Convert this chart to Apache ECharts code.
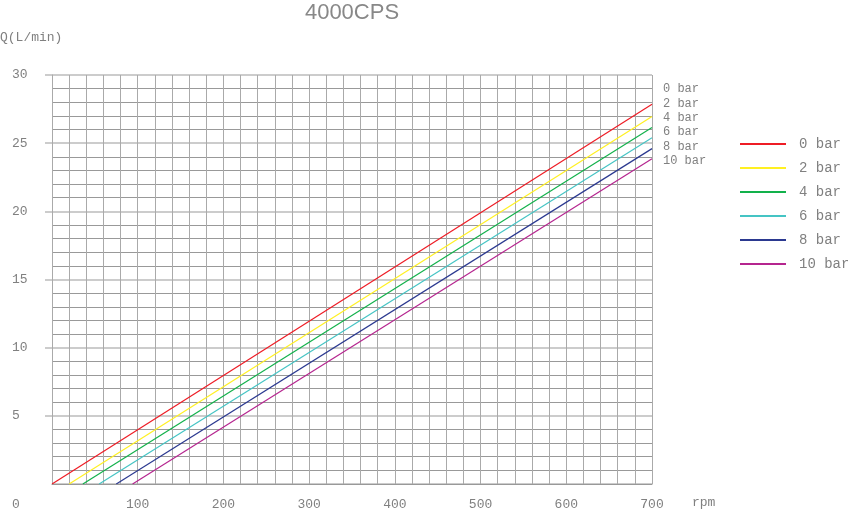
<!DOCTYPE html>
<html>
<head>
<meta charset="utf-8">
<script src="https://cdn.jsdelivr.net/npm/echarts@6/dist/echarts.min.js"></script>
<style>
  html, body { margin: 0; padding: 0; background: #fff; }
  #chart { width: 848px; height: 511px; }
</style>
</head>
<body>
<div id="chart"></div>
<script>
// pressure curves: flow starts at startRpm (Q = 0) and rises to endQ at 700 rpm
var seriesNames = ['0 bar', '2 bar', '4 bar', '6 bar', '8 bar', '10 bar']
var startRpm = [0, 20, 36, 55, 75, 94]
var endQ = [27.85, 26.95, 26.15, 25.4, 24.6, 23.85]
var maxRpm = 700
var colors = ['#ee1c25', '#fff022', '#12b14b', '#45c4c4', '#2b3990', '#b5258f']
var fontMono = '"Liberation Mono", "DejaVu Sans Mono", monospace'
var textGray = '#808080'

var dom = document.getElementById('chart')
var chart = echarts.init(dom)

var series = seriesNames.map(function (name, i) {
  return {
    name: name,
    type: 'line',
    symbol: 'none',
    color: colors[i],
    lineStyle: { color: colors[i], width: 1.2 },
    data: [[startRpm[i], 0], [maxRpm, endQ[i]]]
  }
})

// small labels to the right of the plot
var sideLabels = seriesNames.map(function (name, i) {
  return {
    type: 'text',
    x: 663,
    y: 89 + i * 14.4,
    style: {
      text: name,
      fill: textGray,
      font: '12px ' + fontMono,
      textVerticalAlign: 'middle'
    }
  }
})

var option = {
  animation: false,
  grid: { left: 52, right: 196, top: 75, bottom: 26 },
  legend: {
    orient: 'vertical',
    left: 735,
    top: 132,
    icon: 'rect',
    itemWidth: 46,
    itemHeight: 2,
    itemGap: 10,
    textStyle: { color: textGray, fontSize: 14, fontFamily: fontMono, padding: [0, 0, 0, 8] },
    data: seriesNames
  },
  xAxis: {
    type: 'value',
    min: 0,
    max: 700,
    interval: 100,
    axisLine: { lineStyle: { color: '#999' } },
    axisTick: { show: false },
    axisLabel: {
      showMinLabel: false,
      color: textGray,
      fontSize: 13,
      fontFamily: fontMono,
      margin: 14
    },
    splitLine: { show: true, lineStyle: { color: '#aaa', width: 1 } },
    minorTick: { show: false, splitNumber: 5 },
    minorSplitLine: { show: true, lineStyle: { color: '#aaa', width: 1 } }
  },
  yAxis: {
    type: 'value',
    min: 0,
    max: 30,
    interval: 5,
    axisLine: { show: true, lineStyle: { color: '#aaa' } },
    axisTick: { show: true, length: 7, lineStyle: { color: '#ccc', width: 2 } },
    axisLabel: {
      showMinLabel: false,
      align: 'left',
      margin: 40,
      color: textGray,
      fontSize: 13,
      fontFamily: fontMono
    },
    splitLine: { show: true, lineStyle: { color: '#ccc', width: 2 } },
    minorTick: { show: false, splitNumber: 5 },
    minorSplitLine: { show: true, lineStyle: { color: '#999', width: 1 } }
  },
  graphic: [
    {
      type: 'text',
      x: 352,
      y: 13,
      style: {
        text: '4000CPS',
        fill: '#888',
        font: '22px "Liberation Sans", "Noto Sans", sans-serif',
        textAlign: 'center',
        textVerticalAlign: 'middle'
      }
    },
    {
      type: 'text',
      x: 0,
      y: 38,
      style: { text: 'Q(L/min)', fill: textGray, font: '13px ' + fontMono, textVerticalAlign: 'middle' }
    },
    {
      type: 'text',
      x: 692,
      y: 503,
      style: { text: 'rpm', fill: textGray, font: '13px ' + fontMono, textVerticalAlign: 'middle' }
    },
    {
      type: 'text',
      x: 12,
      y: 505,
      style: { text: '0', fill: textGray, font: '13px ' + fontMono, textVerticalAlign: 'middle' }
    }
  ].concat(sideLabels),
  series: series
}

chart.setOption(option)
window.addEventListener('resize', function () { chart.resize() })
</script>
</body>
</html>
